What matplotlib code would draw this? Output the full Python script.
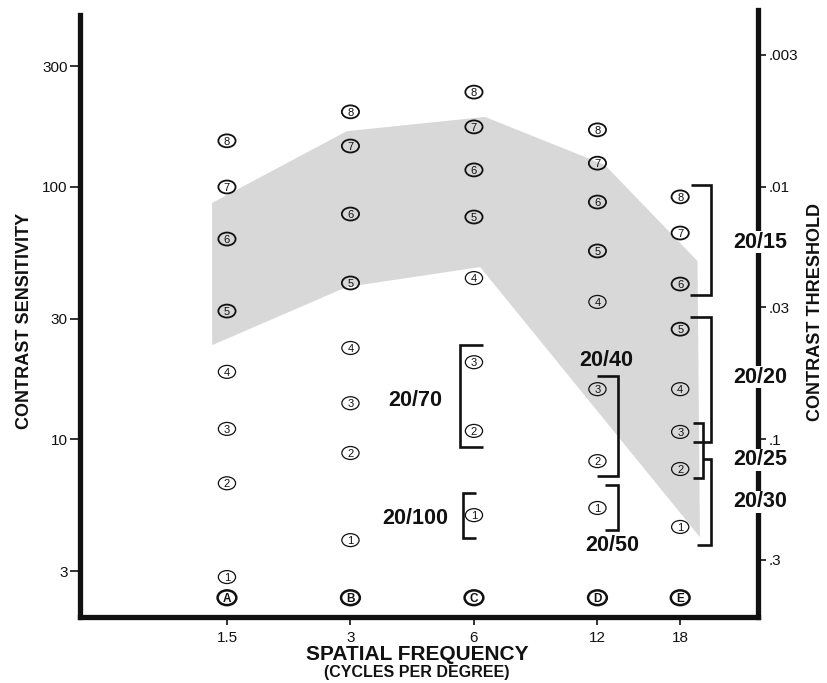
import numpy as np
import matplotlib
matplotlib.use("Agg")
import matplotlib.pyplot as plt
from matplotlib.path import Path
from matplotlib.transforms import Affine2D

plt.rcParams['font.family'] = ['Liberation Sans', 'DejaVu Sans']

# --- chart data -------------------------------------------------------------
freq_labels = ["1.5", "3", "6", "12", "18"]
row_letters = ["A", "B", "C", "D", "E"]
patch_numbers = [1, 2, 3, 4, 5, 6, 7, 8]

# contrast sensitivity of grating patches 1..8 in each row
sens_A = [2.85, 6.7, 11.0, 18.5, 32.2, 62.1, 99.8, 152]
sens_B = [3.99, 8.83, 13.9, 23.0, 41.6, 78, 145, 198]
sens_C = [5.01, 10.8, 20.2, 43.5, 75.9, 116.6, 172.6, 237]
sens_D = [5.35, 8.2, 15.8, 35.0, 55.7, 87, 124, 168]
sens_E = [4.50, 7.63, 10.7, 15.8, 27.3, 41.2, 65.6, 91.2]
letter_row_sens = 2.36

# normal population range (shaded band)
band_upper_x = [-0.12, 0.97, 2.09, 3.06, 3.81, 3.83]
band_upper = [86.3, 166, 189, 122, 50.8, 4.1]
band_lower_x = [3.83, 2.05, 0.97, -0.12]
band_lower = [4.1, 48.1, 40.1, 23.6]

# acuity brackets: label, vertical x, top end x, bottom end x, top, bottom
brackets = [
    ("20/70", 1.887, 2.073, 2.073, 23.6, 9.32),
    ("20/100", 1.911, 2.016, 2.016, 6.13, 4.07),
    ("20/40", 3.166, 2.996, 2.996, 17.8, 7.16),
    ("20/50", 3.166, 3.060, 3.060, 6.59, 4.37),
    ("20/15", 3.919, 3.757, 3.749, 101.7, 37.3),
    ("20/20", 3.919, 3.749, 3.773, 30.4, 9.78),
    ("20/25", 3.854, 3.773, 3.773, 11.6, 7.03),
    ("20/30", 3.923, 3.854, 3.806, 8.36, 3.81),
]
bracket_labels = {
    "20/70": (1.522, 14.3), "20/100": (1.522, 4.88),
    "20/40": (3.069, 20.6), "20/50": (3.117, 3.81),
    "20/15": (4.316, 60.4), "20/20": (4.316, 17.6),
    "20/25": (4.316, 8.3), "20/30": (4.316, 5.65),
}

threshold_ticks = [".003", ".01", ".03", ".1", ".3"]
threshold_vals = [0.003, 0.01, 0.03, 0.1, 0.3]
sens_ticks = [3, 10, 30, 100, 300]

# --- layout -----------------------------------------------------------------
col_pos = [0, 1, 2, 3, 3.67]
W, H = 827, 683
fig = plt.figure(figsize=(W / 100, H / 100), dpi=100)
ax = fig.add_axes([80 / W, (H - 617) / H, (758 - 80) / W, (617 - 10) / H])
ax.set_yscale("log")
ax.set_xlim(-1.19, 4.30)
ax.set_ylim(1.98, 501)

# shaded normal range
ax.fill(band_upper_x + band_lower_x, band_upper + band_lower,
        color="#d8d8d8", lw=0, zorder=1)

# patch markers
ell = Path.unit_circle().transformed(Affine2D().scale(1.33, 1.0))
ell_l = Path.unit_circle().transformed(Affine2D().scale(1.27, 1.0))
all_sens = [sens_A, sens_B, sens_C, sens_D, sens_E]
for xp, col in zip(col_pos, all_sens):
    for n, s in zip(patch_numbers, col):
        lw = 1.3 if n >= 5 else 0.9
        ax.scatter([xp], [s], marker=ell, s=12.4 ** 2, facecolors="none",
                   edgecolors="#111111", linewidths=lw, zorder=3)
        ax.text(xp, s, str(n), ha="center", va="center_baseline",
                fontsize=8, color="#111111", zorder=4)
for xp, letter in zip(col_pos, row_letters):
    ax.scatter([xp], [letter_row_sens], marker=ell_l, s=13.5 ** 2,
               facecolors="none", edgecolors="#111111", linewidths=1.8, zorder=3)
    ax.text(xp, letter_row_sens, letter, ha="center", va="center_baseline",
            fontsize=8.5, fontweight="bold", color="#111111", zorder=4)

# acuity brackets
for label, xv, xt, xb, top, bot in brackets:
    ax.plot([xt, xv, xv, xb], [top, top, bot, bot], color="#111111", lw=1.9,
            solid_joinstyle="miter", solid_capstyle="butt", clip_on=False,
            zorder=3)
for label, (tx, ty) in bracket_labels.items():
    kw = {}
    if tx > 4.0:
        kw["bbox"] = dict(facecolor="white", edgecolor="none", pad=0.5)
    ax.text(tx, ty, label, ha="center", va="center", fontsize=15.5,
            fontweight="bold", color="#111111", zorder=6, clip_on=False, **kw)

# axes styling
for side in ("left", "bottom", "right"):
    ax.spines[side].set_linewidth(3.8)
    ax.spines[side].set_color("#111111")
ax.spines["top"].set_visible(False)
ax.spines["left"].set_bounds(1.98, 479)

ax.set_yticks(sens_ticks)
ax.set_yticklabels([str(v) for v in sens_ticks])
ax.yaxis.set_minor_locator(matplotlib.ticker.NullLocator())
ax.tick_params(axis="y", direction="out", length=7, width=1.2, pad=2,
               labelsize=11, colors="#111111")
ax.set_xticks(col_pos)
ax.set_xticklabels(freq_labels)
ax.tick_params(axis="x", direction="out", length=6, width=1.2, pad=4,
               labelsize=11, colors="#111111")

axr = ax.twinx()
axr.set_yscale("log")
axr.set_ylim(ax.get_ylim())
axr.set_yticks([1 / t for t in threshold_vals])
axr.set_yticklabels(threshold_ticks)
axr.yaxis.set_minor_locator(matplotlib.ticker.NullLocator())
axr.tick_params(axis="y", direction="out", length=6, width=1.2, pad=2,
                labelsize=11, colors="#111111")
for side in ("left", "bottom", "top", "right"):
    axr.spines[side].set_visible(False)

# axis titles
fig.text(25 / W, (H - 321) / H, "CONTRAST SENSITIVITY", rotation=90,
         ha="center", va="center", fontsize=13, fontweight="bold", color="#111111")
fig.text(815 / W, (H - 312) / H, "CONTRAST THRESHOLD", rotation=90,
         ha="center", va="center", fontsize=13, fontweight="bold", color="#111111")
fig.text(417 / W, (H - 654) / H, "SPATIAL FREQUENCY", ha="center", va="center",
         fontsize=15, fontweight="bold", color="#111111")
fig.text(417 / W, (H - 673) / H, "(CYCLES PER DEGREE)", ha="center", va="center",
         fontsize=11.5, fontweight="bold", color="#111111")

fig.savefig("out.png", dpi=100, facecolor="white")
